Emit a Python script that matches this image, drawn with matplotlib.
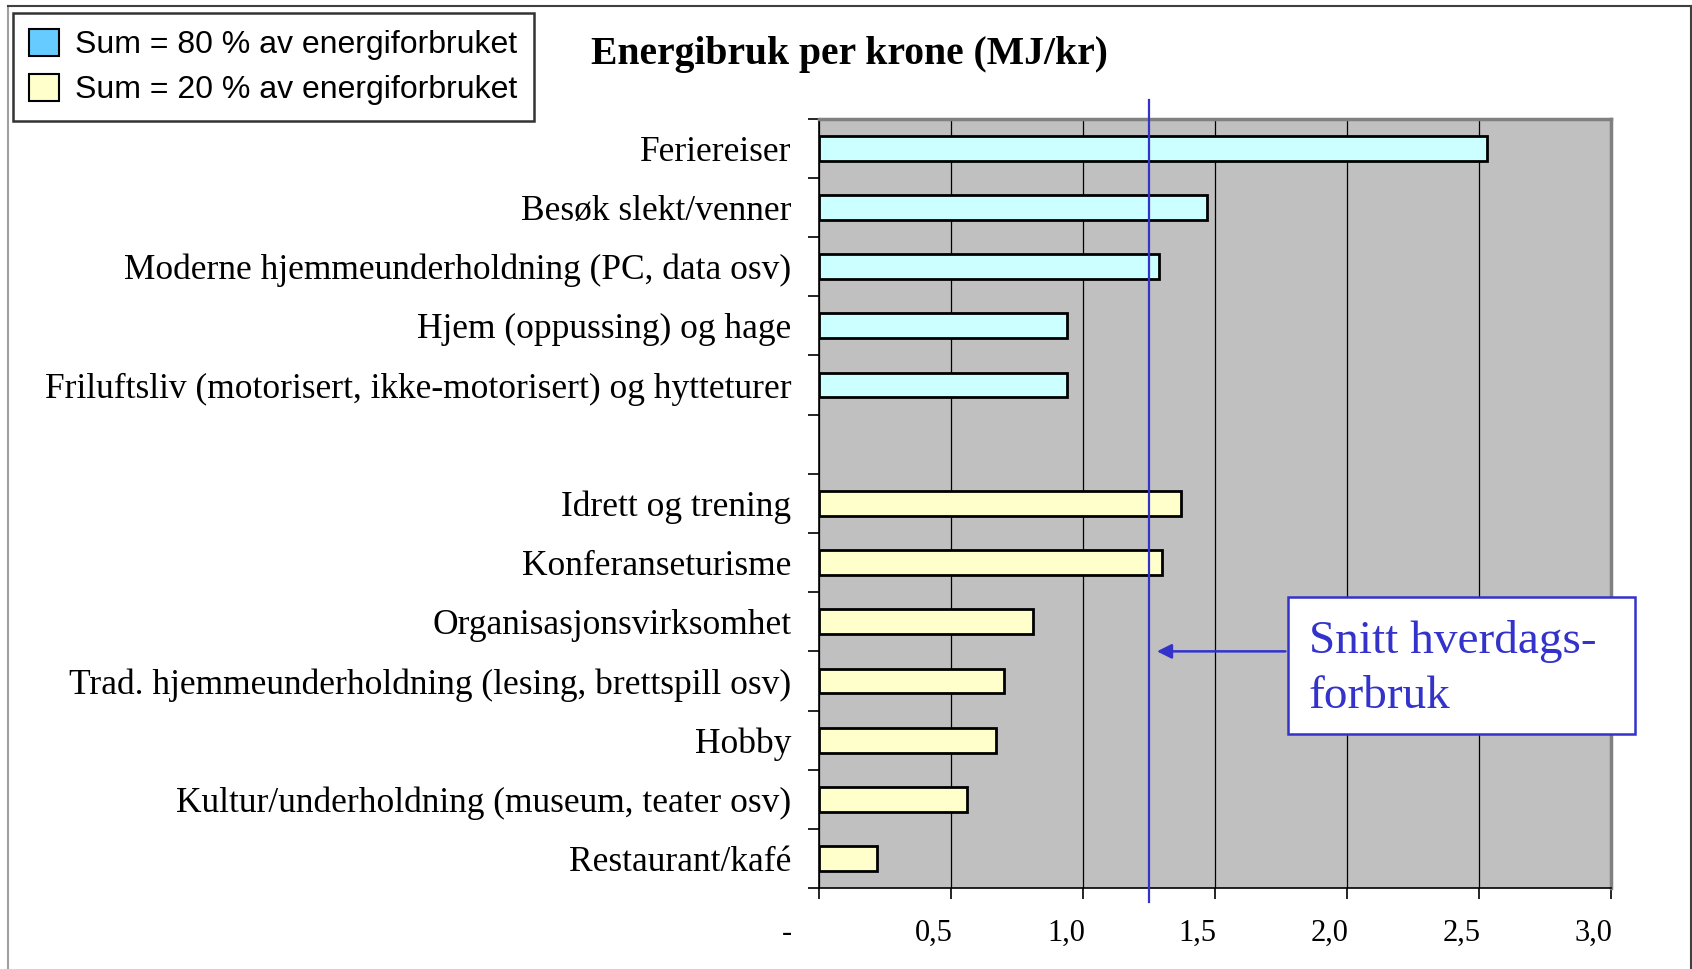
import matplotlib
matplotlib.use('Agg')
import matplotlib.pyplot as plt
from matplotlib.patches import Patch, Rectangle
from matplotlib.lines import Line2D
import matplotlib.transforms as mtransforms

# ---- data ----
labels_80 = ["Feriereiser", "Besøk slekt/venner",
             "Moderne hjemmeunderholdning (PC, data osv)",
             "Hjem (oppussing) og hage",
             "Friluftsliv (motorisert, ikke-motorisert) og hytteturer"]
values_80 = [2.53, 1.47, 1.29, 0.94, 0.94]
labels_20 = ["Idrett og trening", "Konferanseturisme", "Organisasjonsvirksomhet",
             "Trad. hjemmeunderholdning (lesing, brettspill osv)", "Hobby",
             "Kultur/underholdning (museum, teater osv)", "Restaurant/kafé"]
values_20 = [1.37, 1.30, 0.81, 0.70, 0.67, 0.56, 0.22]
snitt_hverdag = 1.25
x_ticks = [0, 0.5, 1.0, 1.5, 2.0, 2.5, 3.0]
x_ticklabels = ["-", "0,5", "1,0", "1,5", "2,0", "2,5", "3,0"]
legend_labels = ["Sum = 80 % av energiforbruket", "Sum = 20 % av energiforbruket"]
title = "Energibruk per krone (MJ/kr)"
note = "Snitt hverdags-\nforbruk"

# ---- style ----
serif = "Liberation Serif"
sans = "Liberation Sans"
c80 = "#CCFFFF"
c20 = "#FFFFCC"
c80_leg = "#66CCFF"
blue = "#3333CC"

fig = plt.figure(figsize=(16.92, 9.69), dpi=100)
ax = fig.add_axes([0.484, 0.0835, 0.468, 0.794])

pos_80 = list(range(len(values_80)))
pos_20 = [len(values_80) + 1 + i for i in range(len(values_20))]
n_slots = len(values_80) + 1 + len(values_20)

ax.barh(pos_80, values_80, height=0.42, color=c80, edgecolor="black", linewidth=2, zorder=3)
ax.barh(pos_20, values_20, height=0.42, color=c20, edgecolor="black", linewidth=2, zorder=3)

ax.set_xlim(0, 3.0)
ax.set_ylim(n_slots - 0.5, -0.5)
ax.set_facecolor("#C0C0C0")
ax.grid(axis="x", color="black", linewidth=0.9, zorder=1)
ax.set_axisbelow(True)

ax.set_yticks(pos_80 + pos_20)
ax.set_yticklabels(labels_80 + labels_20, fontfamily=serif, fontsize=25.5)
ax.tick_params(axis="y", which="major", length=0, pad=20)
ax.set_yticks([i - 0.5 for i in range(n_slots + 1)], minor=True)
ax.tick_params(axis="y", which="minor", length=8, width=1.2, direction="out")

ax.set_xticks(x_ticks)
ax.set_xticklabels(x_ticklabels, fontfamily=serif, fontsize=22)
ax.tick_params(axis="x", length=8, width=1.2, direction="out", pad=14)
for i, lab in enumerate(ax.get_xticklabels()):
    dx = -32 if i == 0 else -17
    lab.set_transform(lab.get_transform() + mtransforms.ScaledTranslation(dx / 100, 0, fig.dpi_scale_trans))

for s in ["top", "right"]:
    ax.spines[s].set_color("#808080")
    ax.spines[s].set_linewidth(2.5)
for s in ["left", "bottom"]:
    ax.spines[s].set_color("black")
    ax.spines[s].set_linewidth(1.2)

# average line
ax.plot([snitt_hverdag, snitt_hverdag], [1.024, -0.018], transform=ax.get_xaxis_transform(),
        color=blue, linewidth=1.6, clip_on=False, zorder=5)

# annotation box
box = Rectangle((1.778, 7.58), 3.09 - 1.778, 9.89 - 7.58, facecolor="white",
                edgecolor=blue, linewidth=1.8, clip_on=False, zorder=6)
ax.add_patch(box)
ax.text(1.855, 8.8, note, fontfamily=serif, fontsize=34, color=blue,
        ha="left", va="center", linespacing=1.38, zorder=7, clip_on=False)
ax.annotate("", xy=(snitt_hverdag + 0.02, 8.5), xytext=(1.778, 8.5),
            arrowprops=dict(arrowstyle="-|>", color=blue, lw=1.8, mutation_scale=22),
            zorder=7, annotation_clip=False)

# title
fig.text(0.502, 0.9435, title, fontfamily=serif, fontsize=28.5, fontweight="bold",
         ha="center", va="center")

# legend
handles = [Patch(facecolor=c80_leg, edgecolor="black", linewidth=1.5),
           Patch(facecolor=c20, edgecolor="black", linewidth=1.5)]
leg = fig.legend(handles, legend_labels, loc="upper left", bbox_to_anchor=(0.0077, 0.987),
                 prop={"family": sans, "size": 23}, frameon=True, fancybox=False,
                 borderaxespad=0, handlelength=0.95, handleheight=0.95, handletextpad=0.5,
                 labelspacing=0.42, borderpad=0.5)
leg.get_frame().set_edgecolor("black")
leg.get_frame().set_linewidth(1.8)

# outer frame
fig.add_artist(Line2D([0.0047, 0.0047], [0, 0.994], transform=fig.transFigure, color="#A0A0A0", lw=1.5))
fig.add_artist(Line2D([0.0047, 0.9992], [0.994, 0.994], transform=fig.transFigure, color="#404040", lw=1.5))
fig.add_artist(Line2D([0.9992, 0.9992], [0, 0.994], transform=fig.transFigure, color="#404040", lw=1.5))

fig.savefig("out.png", dpi=100, facecolor="white")
